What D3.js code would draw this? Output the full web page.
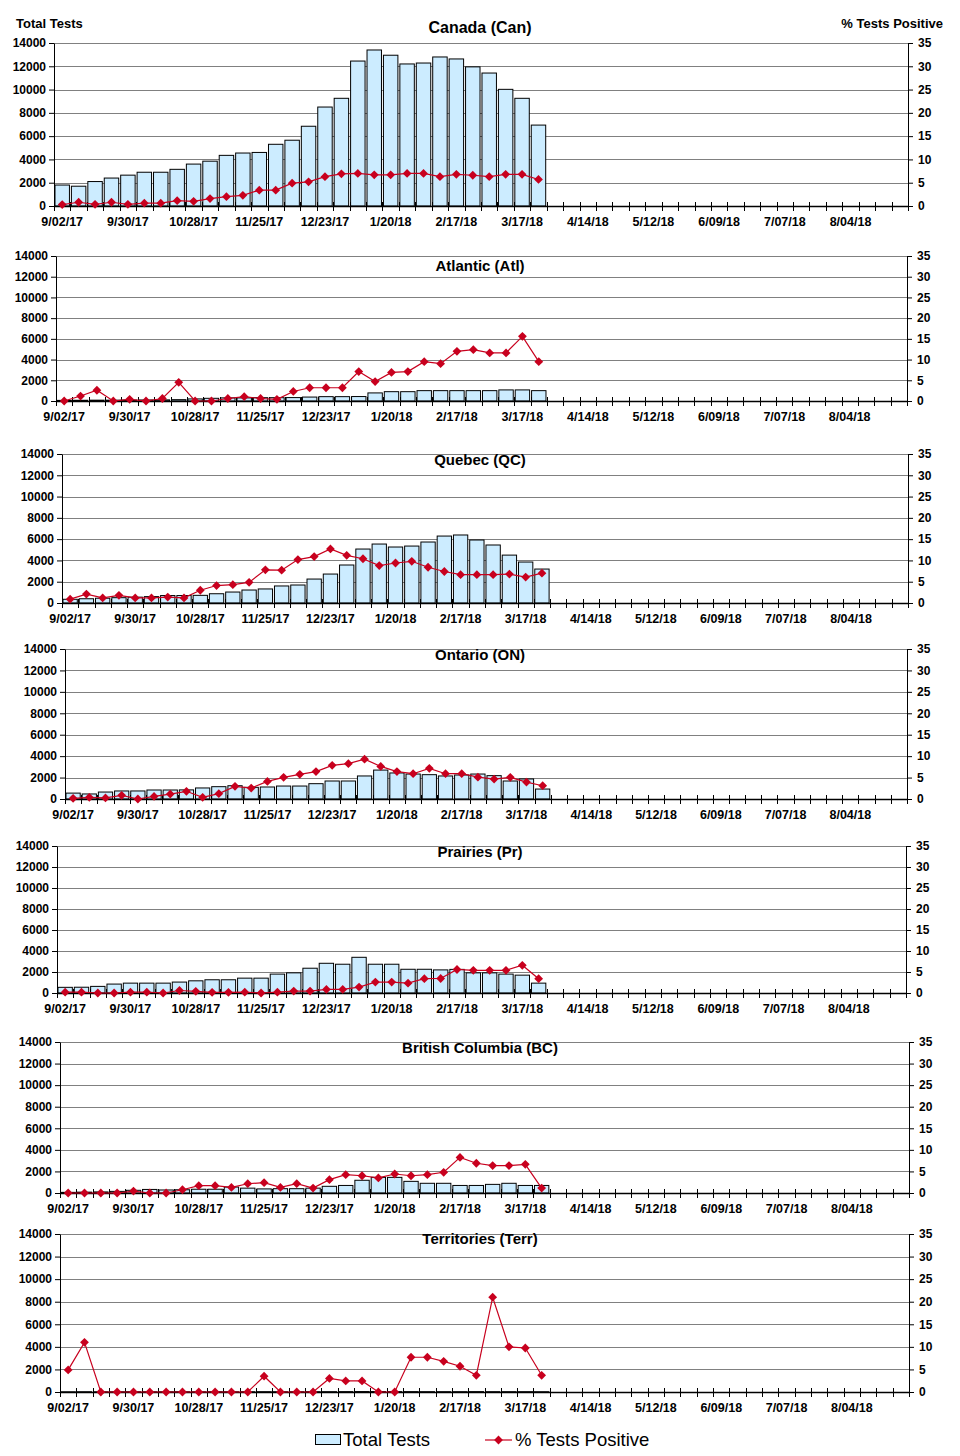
<!DOCTYPE html>
<html>
<head>
<meta charset="utf-8">
<script src="https://cdn.jsdelivr.net/npm/d3@7"></script>
<style>
  html, body { margin: 0; padding: 0; background: #fff; }
  svg { display: block; font-family: "Liberation Sans", Arial, sans-serif; }
</style>
</head>
<body>
<svg id="chart" width="960" height="1456"></svg>
<script>
// ---------------- DATA ----------------
const categories = ["9/02/17","9/09/17","9/16/17","9/23/17","9/30/17","10/07/17","10/14/17","10/21/17",
  "10/28/17","11/04/17","11/11/17","11/18/17","11/25/17","12/02/17","12/09/17","12/16/17",
  "12/23/17","12/30/17","1/06/18","1/13/18","1/20/18","1/27/18","2/03/18","2/10/18",
  "2/17/18","2/24/18","3/03/18","3/10/18","3/17/18","3/24/18","3/31/18","4/07/18",
  "4/14/18","4/21/18","4/28/18","5/05/18","5/12/18","5/19/18","5/26/18","6/02/18",
  "6/09/18","6/16/18","6/23/18","6/30/18","7/07/18","7/14/18","7/21/18","7/28/18",
  "8/04/18","8/11/18","8/18/18","8/25/18"];
const tickLabels = ["9/02/17","9/30/17","10/28/17","11/25/17","12/23/17","1/20/18","2/17/18",
  "3/17/18","4/14/18","5/12/18","6/09/18","7/07/18","8/04/18"];
const leftTicks = [0, 2000, 4000, 6000, 8000, 10000, 12000, 14000];
const rightTicks = [0, 5, 10, 15, 20, 25, 30, 35];

const canTests = [1800,1700,2100,2400,2650,2900,2900,3150,3600,3850,4350,4550,4600,5300,5650,6850,
  8500,9250,12450,13400,12950,12200,12280,12800,12630,11950,11420,10020,9250,6950];
const canPct = [0.3,0.8,0.35,0.8,0.35,0.6,0.6,1.15,1.0,1.6,2.0,2.3,3.4,3.4,4.9,5.2,
  6.3,6.9,7.0,6.7,6.7,7.0,7.0,6.3,6.8,6.6,6.3,6.8,6.8,5.7];

const atlTests = [60,70,80,80,90,100,110,130,200,260,300,300,320,320,330,380,
  420,420,430,780,900,900,1000,1000,1000,1000,1000,1070,1070,1000];
const atlPct = [0,1.2,2.6,0,0.4,0,0.6,4.5,0,0,0.6,1.05,0.6,0.4,2.3,3.2,
  3.2,3.2,7.1,4.7,6.9,7.1,9.5,9.0,12.0,12.4,11.6,11.6,15.6,9.5];

const qcTests = [350,400,450,500,550,600,700,700,720,870,1030,1220,1320,1600,1690,2250,
  2720,3570,5070,5540,5260,5350,5730,6290,6390,5920,5450,4500,3850,3190];
const qcPct = [0.9,2.1,1.2,1.8,1.2,1.2,1.4,1.2,3.0,4.1,4.3,4.85,7.8,7.7,10.2,10.9,
  12.7,11.2,10.4,8.8,9.4,9.8,8.4,7.4,6.65,6.65,6.65,6.8,6.1,7.0];

const onTests = [550,470,650,750,750,840,840,850,1030,1150,1240,1090,1120,1210,1210,1430,
  1680,1680,2150,2700,2430,2330,2270,2150,2240,2330,2180,1680,1870,930];
const onPct = [0.15,0.4,0.25,0.85,0,0.6,1.15,1.8,0.4,1.25,2.95,2.55,4.1,5.05,5.75,6.4,
  7.85,8.25,9.3,7.6,6.4,5.9,7.15,5.9,5.9,5.1,4.65,5.05,3.95,3.1];

const prTests = [540,550,630,850,940,940,940,1040,1160,1260,1260,1415,1415,1800,1920,2360,
  2830,2740,3400,2740,2740,2260,2260,2200,2250,1920,1920,1800,1700,940];
const prPct = [0.2,0.2,0,0,0.2,0.2,0,0.6,0.4,0.15,0.15,0.2,0,0.2,0.45,0.45,
  0.85,0.85,1.4,2.6,2.6,2.35,3.4,3.45,5.6,5.4,5.4,5.4,6.6,3.4];

const bcTests = [60,80,100,150,250,330,280,300,350,350,550,450,380,400,400,450,
  620,700,1180,1450,1450,1080,900,900,700,700,800,900,700,700];
const bcPct = [0,0,0,0,0.45,0,0,0.75,1.7,1.7,1.3,2.15,2.4,1.3,2.15,1.15,
  3.1,4.25,4.0,3.5,4.4,4.0,4.25,4.8,8.25,6.9,6.35,6.35,6.65,1.15];

const terrTests = [20,25,20,20,25,20,20,25,20,25,20,25,30,25,25,30,
  30,35,40,40,35,35,30,30,30,35,30,30,30,25];
const terrPct = [4.9,11.0,0,0,0,0,0,0,0,0,0,0,3.5,0,0,0,
  3.0,2.45,2.45,0,0,7.7,7.7,6.8,5.7,3.7,21.0,10.0,9.75,3.7];

// ---------------- LAYOUT ----------------
const panels = [
  {title:"Canada (Can)",          tests:canTests,  pct:canPct,  left:54, right:908, top:43,   bottom:206,  titleY:33,   titleSize:16},
  {title:"Atlantic (Atl)",        tests:atlTests,  pct:atlPct,  left:56, right:907, top:256,  bottom:401,  titleY:271,  titleSize:15},
  {title:"Quebec (QC)",           tests:qcTests,   pct:qcPct,   left:62, right:908, top:454,  bottom:603,  titleY:465,  titleSize:15},
  {title:"Ontario (ON)",          tests:onTests,   pct:onPct,   left:65, right:907, top:649,  bottom:799,  titleY:660,  titleSize:15},
  {title:"Prairies (Pr)",         tests:prTests,   pct:prPct,   left:57, right:906, top:846,  bottom:993,  titleY:857,  titleSize:15},
  {title:"British Columbia (BC)", tests:bcTests,   pct:bcPct,   left:60, right:909, top:1042, bottom:1193, titleY:1053, titleSize:15},
  {title:"Territories (Terr)",    tests:terrTests, pct:terrPct, left:60, right:909, top:1234, bottom:1392, titleY:1244, titleSize:15}
];

const BAR_FILL = "#CCECFF";
const RED = "#C8001E";
const GRID = "#808080";
const FONT = "Liberation Sans, Arial, sans-serif";

const svg = d3.select("#chart");

// Top axis titles
svg.append("text").attr("x", 16).attr("y", 28).attr("font-size", 13).attr("font-weight", "bold")
  .text("Total Tests");
svg.append("text").attr("x", 943).attr("y", 28).attr("font-size", 13).attr("font-weight", "bold")
  .attr("text-anchor", "end").text("% Tests Positive");

const diamond = "M0,-4.4L4.4,0L0,4.4L-4.4,0Z";

panels.forEach(p => {
  const g = svg.append("g");
  const x = d3.scaleBand().domain(categories).range([p.left, p.right]).padding(0);
  const y = d3.scaleLinear().domain([0, 14000]).range([p.bottom, p.top]);
  const y2 = d3.scaleLinear().domain([0, 35]).range([p.bottom, p.top]);
  const bw = x.bandwidth();
  const inset = bw * 0.06;

  // gridlines
  g.append("g").selectAll("line").data(leftTicks.filter(d => d > 0)).join("line")
    .attr("x1", p.left).attr("x2", p.right)
    .attr("y1", d => Math.round(y(d)) + 0.5).attr("y2", d => Math.round(y(d)) + 0.5)
    .attr("stroke", GRID).attr("stroke-width", 1);

  // bars
  g.append("g").selectAll("rect").data(p.tests).join("rect")
    .attr("x", (d, i) => x(categories[i]) + inset)
    .attr("width", bw - 2 * inset)
    .attr("y", d => y(d))
    .attr("height", d => y(0) - y(d))
    .attr("fill", BAR_FILL).attr("stroke", "#000").attr("stroke-width", 1);

  // left axis
  const la = d3.axisLeft(y).tickValues(leftTicks).tickFormat(d3.format("d"))
    .tickSize(5).tickSizeOuter(0).tickPadding(3);
  const lag = g.append("g").attr("transform", `translate(${p.left},0)`).call(la);
  lag.selectAll("text").attr("font-size", 12).attr("font-weight", "bold").attr("fill", "#000")
    .attr("font-family", FONT);
  lag.selectAll("path,line").attr("stroke", "#000");

  // right axis
  const ra = d3.axisRight(y2).tickValues(rightTicks).tickSize(5).tickSizeOuter(0).tickPadding(5);
  const rag = g.append("g").attr("transform", `translate(${p.right},0)`).call(ra);
  rag.selectAll("text").attr("font-size", 12).attr("font-weight", "bold").attr("fill", "#000")
    .attr("font-family", FONT);
  rag.selectAll("path,line").attr("stroke", "#000");

  // bottom axis labels
  const ba = d3.axisBottom(x).tickValues(tickLabels).tickSize(0).tickPadding(11);
  const bag = g.append("g").attr("transform", `translate(0,${p.bottom})`).call(ba);
  bag.select(".domain").remove();
  bag.selectAll("text").attr("font-size", 12.5).attr("font-weight", "bold").attr("fill", "#000")
    .attr("font-family", FONT);

  // bottom axis line & boundary ticks
  g.append("line").attr("x1", p.left).attr("x2", p.right)
    .attr("y1", p.bottom + 0.5).attr("y2", p.bottom + 0.5).attr("stroke", "#000").attr("stroke-width", 1.5);
  const bounds = categories.map(c => x(c)).concat([p.right]);
  g.append("g").selectAll("line").data(bounds).join("line")
    .attr("x1", d => Math.round(d) + 0.5).attr("x2", d => Math.round(d) + 0.5)
    .attr("y1", p.bottom - 4).attr("y2", p.bottom + 5)
    .attr("stroke", "#000").attr("stroke-width", 1);

  // line series
  const line = d3.line().x((d, i) => x(categories[i]) + bw / 2).y(d => y2(d));
  g.append("path").datum(p.pct).attr("d", line)
    .attr("fill", "none").attr("stroke", RED).attr("stroke-width", 1.2);
  g.append("g").selectAll("path").data(p.pct).join("path")
    .attr("d", diamond)
    .attr("transform", (d, i) => `translate(${x(categories[i]) + bw / 2},${y2(d)})`)
    .attr("fill", RED);

  // title
  g.append("text").attr("x", 480).attr("y", p.titleY).attr("text-anchor", "middle")
    .attr("font-size", p.titleSize).attr("font-weight", "bold").text(p.title);
});

// legend
const lg = svg.append("g");
lg.append("rect").attr("x", 315.5).attr("y", 1434.5).attr("width", 25).attr("height", 10)
  .attr("fill", BAR_FILL).attr("stroke", "#000");
lg.append("text").attr("x", 343).attr("y", 1446).attr("font-size", 18.5).text("Total Tests");
lg.append("line").attr("x1", 485).attr("x2", 512).attr("y1", 1440).attr("y2", 1440)
  .attr("stroke", RED).attr("stroke-width", 1.2);
lg.append("path").attr("d", diamond).attr("transform", "translate(498.5,1440)").attr("fill", RED);
lg.append("text").attr("x", 515).attr("y", 1446).attr("font-size", 18.5).text("% Tests Positive");
</script>
</body>
</html>
